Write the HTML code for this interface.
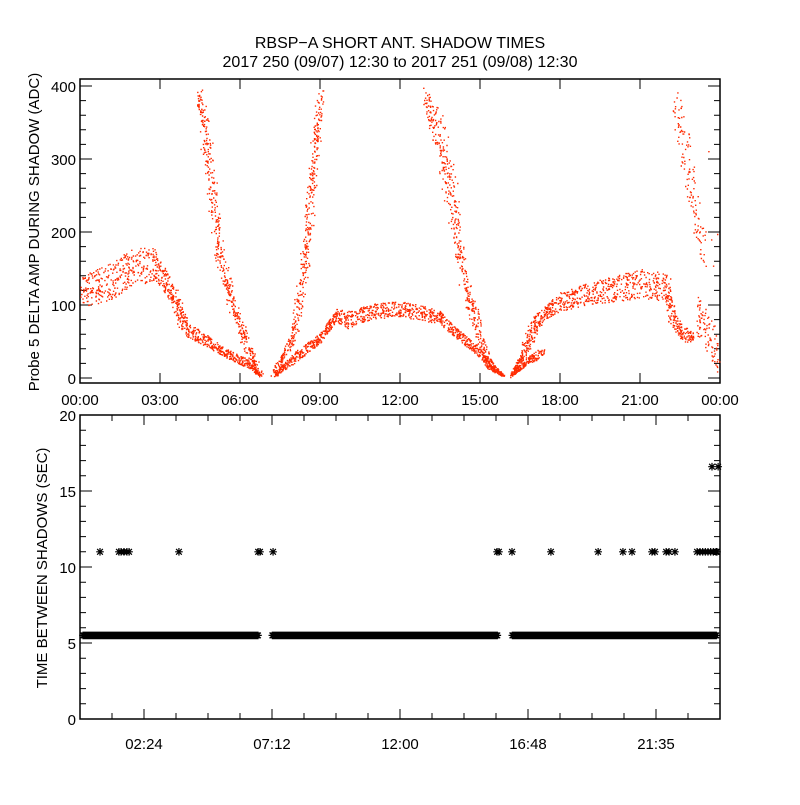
<!DOCTYPE html>
<html><head><meta charset="utf-8"><style>
html,body{margin:0;padding:0;background:#fff}
svg text{font-family:"Liberation Sans",sans-serif;fill:#000}
</style></head><body>
<svg id="chart" width="800" height="800" viewBox="0 0 800 800" xmlns="http://www.w3.org/2000/svg">
<rect width="800" height="800" fill="#fff"/>
<text x="400" y="48" font-size="16" text-anchor="middle">RBSP−A SHORT ANT. SHADOW TIMES</text>
<text x="400" y="67" font-size="16" text-anchor="middle">2017 250 (09/07) 12:30 to 2017 251 (09/08) 12:30</text>
<g id="topPanel"></g>
<g id="botPanel"></g>
</svg>
<script>
// ---------- data ----------
const branchMainArcLeft=[[0,98,140],[1,105,155],[2,125,180],[2.8,135,178],[3.5,100,130],[3.8,70,95],[3.95,58,78],[4.5,48,66],[5.5,28,40],[6.3,14,26],[6.8,0,4]];
const branchDescendLeft=[[4.45,385,400],[4.8,250,340],[5.2,150,200],[5.6,100,130],[6.0,60,80],[6.4,25,40],[6.75,3,10]];
const branchRiseLeft=[[7.25,0,5],[7.5,20,30],[8.0,45,70],[8.5,150,210],[8.8,280,350],[9.0,380,400]];
const branchMainArcMid=[[7.3,3,8],[8,20,35],[9,48,62],[9.6,78,95],[10,68,92],[11,82,102],[12,84,106],[13,78,98],[13.5,74,92],[14,58,72],[15,28,42],[15.3,12,22],[15.9,2,5]];
const branchDescendMid=[[12.95,380,400],[13.5,290,360],[14,200,280],[14.3,130,170],[14.8,60,95],[15.1,30,55],[15.5,10,20],[15.8,3,8]];
const branchRiseRight=[[16.1,0,5],[16.6,25,40],[17,60,85],[17.5,82,102],[18,92,118],[19,100,130],[20,105,140],[21,110,150],[22,105,145],[22.2,70,95],[22.6,50,72],[23,50,64]];
const branchRiseRightLow=[[16.2,3,8],[16.8,20,30],[17.4,28,45]];
const branchDescendRight=[[22.3,370,400],[22.6,280,360],[22.9,220,300],[23.2,160,240],[23.4,150,200]];
const branchTailRight=[[23.1,60,120],[23.6,30,90],[24,5,50]];
const branchScatterRight=[[23.4,0,320],[24,0,320]];
const topBranches=[branchMainArcLeft,branchDescendLeft,branchRiseLeft,branchMainArcMid,branchDescendMid,branchRiseRight,branchRiseRightLow,branchDescendRight,branchTailRight,branchScatterRight];
const topDensity=[3.2,2.2,2.2,3.2,2.2,3.2,3.0,1.2,2.0,0.25];
const topYTicks=["0","100","200","300","400"];
const topXTicks=["00:00","03:00","06:00","09:00","12:00","15:00","18:00","21:00","00:00"];
const baseValue=5.5;
const baseSegments=[[0,6.8],[7.1,15.8],[16.1,24]];
const longGapHours=[0.75,1.46,1.54,1.65,1.76,1.84,3.71,6.68,6.75,7.24,15.64,15.71,16.2,17.66,19.43,20.36,20.7,21.45,21.56,21.98,22.09,22.31,23.14,23.25,23.35,23.45,23.55,23.65,23.75,23.85,23.95];
const longGapValue=11;
const veryLongHours=[23.7,23.93];
const veryLongValue=16.6;
const botYTicks=["0","5","10","15","20"];
const botXTicks=["02:24","07:12","12:00","16:48","21:35"];

// ---------- axes ----------
const NS="http://www.w3.org/2000/svg";
const X0=80,X1=720;
const xs=h=>X0+h*(X1-X0)/24;
const TY0=378,TY1=86; const tys=v=>TY0+(v/400)*(TY1-TY0);
const BY0=719,BY1=415; const bys=v=>BY0+(v/20)*(BY1-BY0);
function mk(tag,attrs,parent){const e=document.createElementNS(NS,tag);for(const k in attrs)e.setAttribute(k,attrs[k]);parent.appendChild(e);return e;}
const topG=document.getElementById('topPanel'),botG=document.getElementById('botPanel');

let f=mk('rect',{x:80,y:79,width:640,height:304,fill:'none',stroke:'#000','stroke-width':1.5},topG);


let tp='';
for(let v=0;v<=400;v+=20){const y=tys(v);const L=(v%100===0)?12:6;tp+=`M80 ${y}h${L}M720 ${y}h${-L}`;}
for(let i=0;i<=8;i++){const x=xs(i*3);tp+=`M${x} 383v-10M${x} 79v10`;}
let tk=mk('path',{d:tp,stroke:'#000','stroke-width':1,fill:'none'},topG);


topYTicks.forEach((s,i)=>{const t=mk('text',{x:76,y:tys(i*100)+6,'font-size':15,'text-anchor':'end'},topG);t.textContent=s;

});
topXTicks.forEach((s,i)=>{const t=mk('text',{x:xs(i*3),y:405,'font-size':15,'text-anchor':'middle'},topG);t.textContent=s;

});
let yt=mk('text',{x:0,y:0,'font-size':15,'text-anchor':'middle',transform:'translate(39,232) rotate(-90)'},topG);yt.textContent='Probe 5 DELTA AMP DURING SHADOW (ADC)';



let seed=12345;const rnd=()=>{seed=(seed*1103515245+12345)%2147483648;return seed/2147483648;};
let dots='';
topBranches.forEach((b,bi)=>{
  const dens=topDensity[bi];
  for(let i=0;i<b.length-1;i++){
    const [h0,l0,u0]=b[i],[h1,l1,u1]=b[i+1];
    const dx=xs(h1)-xs(h0),dy=Math.abs(tys((l1+u1)/2)-tys((l0+u0)/2));
    const steep=dy>dx*2;
    const n=Math.round((dx*1.2+dy*0.45)*dens);
    for(let k=0;k<n;k++){const f2=rnd();const h=h0+f2*(h1-h0);const lo=l0+f2*(l1-l0),hi=u0+f2*(u1-u0);
      const v=lo+rnd()*(hi-lo);let x=xs(h);const y=tys(v);
      if(steep)x+=(rnd()-0.5)*7;
      if(v>=0&&v<=400&&x<=719)dots+=`M${x.toFixed(1)} ${y.toFixed(1)}h1.4v1.4h-1.4z`;}
  }
});
let dp=mk('path',{d:dots,fill:'#ff2a00'},topG);



f=mk('rect',{x:80,y:415,width:640,height:304,fill:'none',stroke:'#000','stroke-width':1.5},botG);


tp='';
for(let v=0;v<=20;v++){const y=bys(v);const L=(v%5===0)?12:6;tp+=`M80 ${y}h${L}M720 ${y}h${-L}`;}
for(let i=0;i<=20;i++){const x=xs(i*1.2);const L=(i%4===2)?10:6;tp+=`M${x} 719v${-L}M${x} 415v${L}`;}
tk=mk('path',{d:tp,stroke:'#000','stroke-width':1,fill:'none'},botG);


botYTicks.forEach((s,i)=>{const t=mk('text',{x:76,y:bys(i*5)+6,'font-size':15,'text-anchor':'end'},botG);t.textContent=s;

});
botXTicks.forEach((s,i)=>{const t=mk('text',{x:xs(2.4+i*4.8),y:749,'font-size':15,'text-anchor':'middle'},botG);t.textContent=s;

});
yt=mk('text',{x:0,y:0,'font-size':15,'text-anchor':'middle',transform:'translate(47,568) rotate(-90)'},botG);yt.textContent='TIME BETWEEN SHADOWS (SEC)';



function star(x,y){const r=3.8;return `M${x-r} ${y}h${2*r}M${x} ${y-r}v${2*r}M${x-r*0.75} ${y-r*0.75}l${1.5*r} ${1.5*r}M${x-r*0.75} ${y+r*0.75}l${1.5*r} ${-1.5*r}`;}
let sp='';
baseSegments.forEach(([a,b])=>{for(let x=xs(a)+3;x<=xs(b)-3;x+=1)sp+=star(x,bys(baseValue));});
let s1=mk('path',{d:sp,stroke:'#000','stroke-width':1.2,fill:'none'},botG);


sp='';
longGapHours.forEach(h=>{sp+=star(Math.min(xs(h),717),bys(longGapValue));});
let s2=mk('path',{d:sp,stroke:'#000','stroke-width':1.2,fill:'none'},botG);


sp='';
veryLongHours.forEach(h=>{sp+=star(xs(h),bys(veryLongValue));});
let s3=mk('path',{d:sp,stroke:'#000','stroke-width':1.2,fill:'none'},botG);


</script>
</body></html>
